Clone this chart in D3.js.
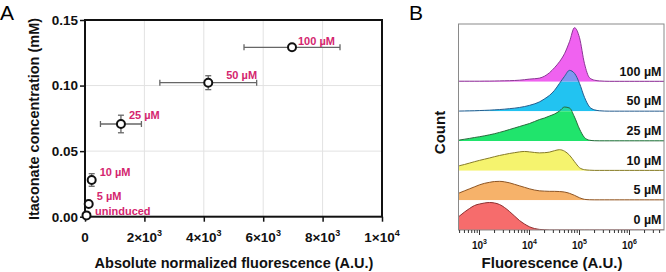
<html><head><meta charset="utf-8"><title>Itaconate biosensor response</title>
<style>
body { margin: 0; background: #fff; }
svg text { font-family: Arial, "Liberation Sans", sans-serif; }
</style>
<script src="https://d3js.org/d3.v7.min.js"></script>
</head>
<body>
<div id="chart"></div>
<script>
// ---- Panel A data ----
const inducerLabels = ["uninduced", "5 µM", "10 µM", "25 µM", "50 µM", "100 µM"];
const fluorMean = [50, 125, 225, 1210, 4150, 6970];
const fluorErr = [0, 0, 0, 690, 1630, 1616];
const itaconate = [0.001, 0.0097, 0.028, 0.0707, 0.1022, 0.1292];
const itaconateErr = [0, 0.002, 0.0048, 0.0067, 0.0053, 0];
const xTicksA = [0, 2000, 4000, 6000, 8000, 10000];
const yTicksA = [0, 0.05, 0.10, 0.15];

// ---- Panel B data (histograms on log10 fluorescence bins) ----
const bandLabels = ["0 µM", "5 µM", "10 µM", "25 µM", "50 µM", "100 µM"];
const logBins = [2.5, 2.6, 2.7, 2.8, 2.9, 3.0, 3.1, 3.2, 3.3, 3.4, 3.5, 3.6, 3.7, 3.8, 3.9,
    4.0, 4.1, 4.2, 4.3, 4.4, 4.5, 4.6, 4.7, 4.8, 4.9, 5.0, 5.1, 5.2, 5.3, 5.4, 5.5,
    5.6, 5.7, 5.8, 5.9, 6.0, 6.1, 6.2, 6.3, 6.4, 6.5, 6.6, 6.7];
const count0 = [11, 14, 18, 21.5, 24.5, 26, 27, 27.5, 27, 25.5, 22.5, 18.5, 14, 9.5, 6,
    3.2, 1.5, 0.6, 0.2, 0, 0, 0, 0, 0, 0, 0, 0, 0, 0, 0, 0,
    0, 0, 0, 0, 0, 0, 0, 0, 0, 0, 0, 0];
const count5 = [6, 7.5, 9.5, 11.5, 13.5, 15.5, 17, 18, 18.8, 19, 18.5, 17.5, 16, 14.5, 13,
    11.5, 10.3, 9.5, 9.2, 9, 9, 8.8, 8.3, 7, 5, 2.6, 1, 0.6, 0.5, 0.5, 0.5,
    0.5, 0.5, 0.5, 0.5, 0.5, 0.5, 0.5, 0.5, 0.5, 0.5, 0.5, 0.5];
const count10 = [4, 5, 6.2, 7.6, 9, 10.3, 11.5, 12.7, 14, 15.2, 16.2, 17.2, 18, 18.8, 19.2,
    18.8, 18.2, 17.8, 18, 18.6, 20, 21, 19.5, 15.5, 9, 3, 1, 0.5, 0.3, 0.3, 0.3,
    0.3, 0.3, 0.3, 0.3, 0.3, 0.3, 0.3, 0.3, 0.3, 0.3, 0.3, 0.3];
const count25 = [0.5, 1, 1.8, 2.6, 3.5, 4.3, 5.2, 6.2, 7.3, 8.6, 10, 11.5, 13, 14.5, 16,
    17.5, 19.5, 21.5, 23, 25, 27, 30, 34, 33, 24, 12, 3.5, 0.8, 0.3, 0.2, 0.2,
    0.2, 0.2, 0.2, 0.2, 0.2, 0.2, 0.2, 0.2, 0.2, 0.2, 0.2, 0.2];
const count50 = [0.3, 0.3, 0.4, 0.5, 0.6, 0.8, 1.0, 1.2, 1.5, 1.8, 2.2, 2.7, 3.2, 3.9, 4.8,
    6, 7.5, 9.5, 12.5, 16, 21, 28, 35, 41, 38, 28, 14, 4.5, 1.5, 0.6, 0.3,
    0.2, 0.2, 0.2, 0.2, 0.2, 0.2, 0.2, 0.2, 0.2, 0.2, 0.2, 0.2];
const count100 = [0.5, 0.5, 0.5, 0.5, 0.5, 0.5, 0.6, 0.6, 0.7, 0.8, 0.9, 1.0, 1.2, 1.5, 2.0,
    2.6, 3.0, 3.6, 5.5, 9, 14, 20, 28, 40, 54, 44, 18, 4, 1.5, 0.8, 0.5,
    0.4, 0.4, 0.4, 0.4, 0.4, 0.4, 0.4, 0.4, 0.4, 0.4, 0.4, 0.4];
const bandCounts = [count0, count5, count10, count25, count50, count100];

// styles
const labelColor = "#d4266f";
const bandFill = ["#f66c6c", "#f6b26a", "#f5f36e", "#20e46c", "#22c3f1", "#f062f0"];
const bandStroke = ["#8c2f2f", "#8c5526", "#857a25", "#286b3c", "#285d8e", "#8a3694"];
// label offsets from each point (px)
const labelDx = [8.5, 8, 8, 8, 18, 6];
const labelDy = [0, -4, -4, -5, -4, -2];

const width = 666, height = 272;
const svg = d3.select("#chart").append("svg")
    .attr("width", width)
    .attr("height", height);

function sciLabel(sel, mant, exp, size, supSize) {
    sel.append("tspan").text(mant);
    sel.append("tspan").attr("font-size", supSize).attr("dy", -size * 0.42).text(exp);
}

// ================= Panel A =================
const xA = d3.scaleLinear().domain([0, 10000]).range([85, 382]);
const yA = d3.scaleLinear().domain([0, 0.15]).range([216.7, 20]);

svg.append("text").attr("x", 0).attr("y", 20).attr("font-size", 21).text("A");

// grid
svg.append("g").selectAll("line.vg")
    .data(xTicksA.slice(1, -1)).join("line")
    .attr("x1", d => xA(d)).attr("x2", d => xA(d))
    .attr("y1", yA(0)).attr("y2", yA(0.15))
    .attr("stroke", "#e2e2e2").attr("stroke-width", 1);
svg.append("g").selectAll("line.hg")
    .data(yTicksA.slice(1, -1)).join("line")
    .attr("x1", xA(0)).attr("x2", xA(10000))
    .attr("y1", d => yA(d)).attr("y2", d => yA(d))
    .attr("stroke", "#e2e2e2").attr("stroke-width", 1);

// axes
const gxA = svg.append("g")
    .attr("transform", `translate(0,${yA(0)})`)
    .call(d3.axisBottom(xA).tickValues(xTicksA).tickSize(5).tickSizeOuter(0).tickFormat(""));
gxA.select(".domain").remove();
gxA.selectAll("line").attr("stroke", "#111").attr("stroke-width", 1.5);

const gyA = svg.append("g")
    .attr("transform", `translate(${xA(0)},0)`)
    .call(d3.axisLeft(yA).tickValues(yTicksA).tickSize(5).tickSizeOuter(0)
        .tickPadding(2).tickFormat(d3.format(".2f")));
gyA.select(".domain").remove();
gyA.selectAll("line").attr("stroke", "#111").attr("stroke-width", 1.5);
gyA.selectAll("text").attr("font-size", 13.5).attr("font-weight", "bold")
    .attr("fill", "#111").style("font-family", "Arial, 'Liberation Sans', sans-serif");

// x tick labels with exponents
xTicksA.forEach(v => {
    const t = svg.append("text")
        .attr("x", xA(v)).attr("y", 241.5)
        .attr("text-anchor", "middle")
        .attr("font-size", 13.5).attr("font-weight", "bold").attr("fill", "#111");
    if (v === 0) { t.text("0"); return; }
    const e = Math.floor(Math.log10(v));
    const m = Math.round(v / Math.pow(10, e));
    sciLabel(t, `${m}×10`, e, 13.5, 9);
});

// frame
svg.append("rect")
    .attr("x", xA(0)).attr("y", yA(0.15))
    .attr("width", xA(10000) - xA(0)).attr("height", yA(0) - yA(0.15))
    .attr("fill", "none").attr("stroke", "#111").attr("stroke-width", 2);

// error bars
const eb = svg.append("g").attr("stroke", "#666").attr("stroke-width", 1.3);
fluorMean.forEach((m, i) => {
    const cy = yA(itaconate[i]), cx = xA(m);
    if (fluorErr[i] > 0) {
        const x0 = xA(m - fluorErr[i]), x1 = xA(m + fluorErr[i]);
        eb.append("line").attr("x1", x0).attr("x2", x1).attr("y1", cy).attr("y2", cy);
        eb.append("line").attr("x1", x0).attr("x2", x0).attr("y1", cy - 3).attr("y2", cy + 3);
        eb.append("line").attr("x1", x1).attr("x2", x1).attr("y1", cy - 3).attr("y2", cy + 3);
    }
    if (itaconateErr[i] > 0) {
        const y0 = yA(itaconate[i] - itaconateErr[i]), y1 = yA(itaconate[i] + itaconateErr[i]);
        eb.append("line").attr("x1", cx).attr("x2", cx).attr("y1", y0).attr("y2", y1);
        eb.append("line").attr("x1", cx - 3).attr("x2", cx + 3).attr("y1", y0).attr("y2", y0);
        eb.append("line").attr("x1", cx - 3).attr("x2", cx + 3).attr("y1", y1).attr("y2", y1);
    }
});

// points
svg.append("g").selectAll("circle")
    .data(fluorMean).join("circle")
    .attr("cx", d => xA(d))
    .attr("cy", (d, i) => yA(itaconate[i]))
    .attr("r", 4)
    .attr("fill", "#fff").attr("stroke", "#111").attr("stroke-width", 2);

// point labels
svg.append("g").selectAll("text")
    .data(inducerLabels).join("text")
    .attr("x", (d, i) => xA(fluorMean[i]) + labelDx[i])
    .attr("y", (d, i) => yA(itaconate[i]) + labelDy[i])
    .attr("font-size", 11).attr("font-weight", "bold").attr("fill", labelColor)
    .text(d => d);

// axis titles
svg.append("text")
    .attr("x", 234).attr("y", 267.5).attr("text-anchor", "middle")
    .attr("font-size", 14.5).attr("font-weight", "bold").attr("fill", "#111")
    .text("Absolute normalized fluorescence (A.U.)");
svg.append("text")
    .attr("transform", "translate(38.5,119) rotate(-90)")
    .attr("text-anchor", "middle")
    .attr("font-size", 14.5).attr("font-weight", "bold").attr("fill", "#111")
    .text("Itaconate concentration (mM)");

// ================= Panel B =================
const bLeft = 458.5, bRight = 664, bTop = 24, bBottom = 230;
const xB = d3.scaleLog().domain([Math.pow(10, 2.58), Math.pow(10, 6.69)]).range([bLeft, bRight]);
const yCount = d3.scaleLinear().domain([0, 55]).range([0, 55]);
const bandBase = d3.scalePoint().domain(bandLabels).range([bBottom, 81.7]);
const bandH = (bBottom - 81.7) / 5;

svg.append("text").attr("x", 409).attr("y", 20).attr("font-size", 21).text("B");

const defs = svg.append("defs");
defs.append("clipPath").attr("id", "frameB")
    .append("rect").attr("x", bLeft).attr("y", bTop)
    .attr("width", bRight - bLeft).attr("height", bBottom - bTop);
bandLabels.forEach((b, i) => {
    const base = bandBase(b);
    const inTop = i === bandLabels.length - 1 ? bTop : base - bandH;
    defs.append("clipPath").attr("id", `in${i}`)
        .append("rect").attr("x", bLeft).attr("y", inTop)
        .attr("width", bRight - bLeft).attr("height", base - inTop);
    defs.append("clipPath").attr("id", `up${i}`)
        .append("rect").attr("x", bLeft).attr("y", bTop)
        .attr("width", bRight - bLeft).attr("height", Math.max(0, inTop - bTop));
});

const hist = svg.append("g");
// draw from top band to bottom so lower peaks overlap the bands above
for (let i = bandLabels.length - 1; i >= 0; i--) {
    const base = bandBase(bandLabels[i]);
    const pts = logBins.map((l, k) => ({ l, c: bandCounts[i][k] }));
    const area = d3.area()
        .x(d => xB(Math.pow(10, d.l)))
        .y0(base)
        .y1(d => base - yCount(d.c))
        .curve(d3.curveMonotoneX);
    const line = d3.line()
        .x(d => xB(Math.pow(10, d.l)))
        .y(d => base - yCount(d.c))
        .curve(d3.curveMonotoneX);
    hist.append("path").attr("d", area(pts))
        .attr("fill", bandFill[i]).attr("clip-path", `url(#in${i})`);
    hist.append("path").attr("d", area(pts))
        .attr("fill", bandFill[i]).attr("fill-opacity", 0.55)
        .attr("clip-path", `url(#up${i})`);
    hist.append("path").attr("d", line(pts))
        .attr("fill", "none").attr("stroke", bandStroke[i]).attr("stroke-width", 1)
        .attr("clip-path", "url(#frameB)");
}

// band labels
svg.append("g").selectAll("text")
    .data(bandLabels).join("text")
    .attr("x", 661.5).attr("y", d => bandBase(d) - 6)
    .attr("text-anchor", "end")
    .attr("font-size", 12.5).attr("font-weight", "bold").attr("fill", "#111")
    .text(d => d);

// frame
svg.append("rect")
    .attr("x", bLeft).attr("y", bTop)
    .attr("width", bRight - bLeft).attr("height", bBottom - bTop)
    .attr("fill", "none").attr("stroke", "#8a8a8a").attr("stroke-width", 1);

// log ticks
const ticksB = xB.ticks();
const isMajor = d => Math.abs(Math.log10(d) - Math.round(Math.log10(d))) < 1e-9;
svg.append("g").selectAll("line")
    .data(ticksB).join("line")
    .attr("x1", d => xB(d)).attr("x2", d => xB(d))
    .attr("y1", bBottom).attr("y2", d => isMajor(d) ? bBottom + 5 : bBottom + 3)
    .attr("stroke", "#333").attr("stroke-width", 1);
ticksB.filter(isMajor).forEach(v => {
    const t = svg.append("text")
        .attr("x", xB(v)).attr("y", 248.5).attr("text-anchor", "middle")
        .attr("font-size", 10).attr("font-weight", "bold").attr("fill", "#111");
    sciLabel(t, "10", Math.round(Math.log10(v)), 10, 7);
});

svg.append("text")
    .attr("x", 552).attr("y", 267.5).attr("text-anchor", "middle")
    .attr("font-size", 15).attr("font-weight", "bold").attr("fill", "#111")
    .text("Fluorescence (A.U.)");
svg.append("text")
    .attr("transform", "translate(444.5,132.5) rotate(-90)")
    .attr("text-anchor", "middle")
    .attr("font-size", 15).attr("font-weight", "bold").attr("fill", "#111")
    .text("Count");
</script>
</body></html>
